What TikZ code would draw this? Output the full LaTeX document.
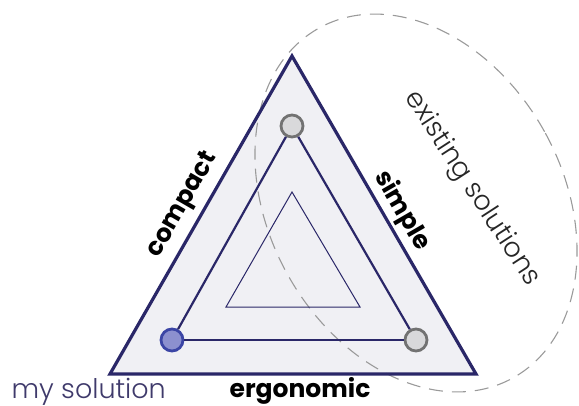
\documentclass[tikz,border=0pt]{standalone}
\usepackage{fontspec}
\setmainfont{Poppins}
\newfontfamily\hand{Poppins Light}
\definecolor{navy}{HTML}{2A2768}
\definecolor{trifill}{HTML}{F0F0F4}
\definecolor{bluefill}{HTML}{8C90CF}
\definecolor{bluedraw}{HTML}{3B45A5}
\definecolor{grayfill}{HTML}{D9D9DB}
\definecolor{graydraw}{HTML}{727272}
\definecolor{dashgray}{HTML}{9A9A9A}
\definecolor{handcol}{HTML}{3F3A6B}
\tikzset{
  midline/.style={draw=navy, line width=2.2pt},
  innerline/.style={draw=navy, line width=1pt},
  dot/.style={circle, minimum size=22pt, inner sep=0pt, line width=2.8pt},
  bluedot/.style={dot, draw=bluedraw, fill=bluefill},
  graydot/.style={dot, draw=graydraw, fill=grayfill},
  edgelabel/.style={font=\fontsize{25}{28}\selectfont\bfseries, text=black},
  handlabel/.style={font=\hand\fontsize{27}{30}\selectfont},
  dashring/.style={draw=dashgray, line width=1.1pt, dash pattern=on 14pt off 9pt}
}
\begin{document}
\begin{tikzpicture}[x=1pt,y=1pt]
\useasboundingbox (0,0) rectangle (579,405);
% outer triangle fill
\coordinate (oA) at (292,349);
\coordinate (oB) at (110,31);
\coordinate (oC) at (476,31);
\fill[trifill] (oA) -- (oB) -- (oC) -- cycle;
% dashed ellipse
\draw[dashring, rotate around={29:(416,202)}] (416,202) ellipse (147 and 200);
% outer triangle border
\draw[draw=navy, line width=3.2pt, line join=miter] (oA) -- (oB) -- (oC) -- cycle;
% inner triangle
\coordinate (iA) at (292,213);
\coordinate (iB) at (226,98);
\coordinate (iC) at (360,98);
\draw[innerline] (iA) -- (iB) -- (iC) -- cycle;
% middle triangle via dots
\node[graydot] (top) at (292,279) {};
\node[bluedot] (mine) at (172,65) {};
\node[graydot] (right) at (416,65) {};
\draw[midline] (top) -- (mine);
\draw[midline] (mine) -- (right);
\draw[midline] (right) -- (top);
% labels
\node[edgelabel, rotate=60] (compact) at (183,200) {compact};
\node[edgelabel, rotate=-60] (simple) at (402,194) {simple};
\node[edgelabel] (ergonomic) at (300,14) {ergonomic};
\node[handlabel, text=handcol, anchor=base west] (mysol) at (8,7) {my solution};
\node[handlabel, text=black!85, rotate=-57] (exist) at (472,216) {existing solutions};
\end{tikzpicture}
\end{document}
